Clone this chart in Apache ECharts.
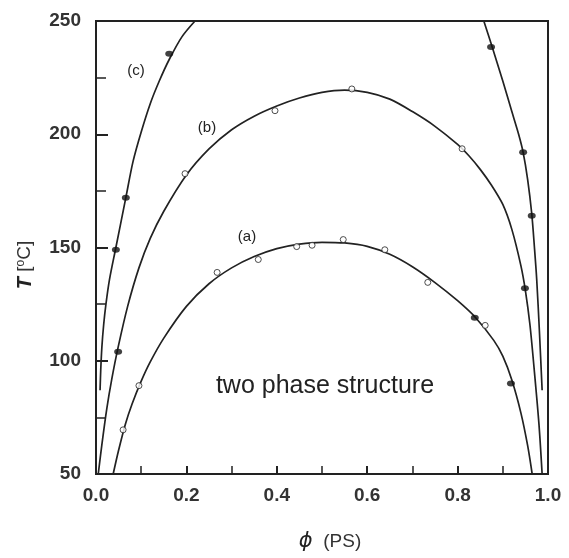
<!DOCTYPE html>
<html>
<head>
<meta charset="utf-8">
<script src="https://cdn.jsdelivr.net/npm/echarts@6/dist/echarts.min.js"></script>
<style>
  html, body { margin: 0; padding: 0; background: #fff; }
  #chart { width: 569px; height: 558px; }
</style>
</head>
<body>
<div id="chart"></div>
<script>
// fitted curves, [phi, T]
var curveA = [[0.038, 50], [0.05, 60.5], [0.065, 72], [0.08, 81], [0.1, 91], [0.12, 99.5], [0.15, 110],
  [0.2, 124], [0.25, 134], [0.3, 141], [0.35, 146], [0.4, 149.5], [0.45, 151.5], [0.5, 152.3], [0.55, 152],
  [0.6, 150.5], [0.65, 147], [0.7, 141.5], [0.75, 134.5], [0.8, 126.5], [0.84, 119], [0.88, 109], [0.9, 102],
  [0.92, 91.5], [0.94, 77], [0.955, 62.5], [0.965, 50]]
var curveB = [[0.005, 50], [0.013, 63], [0.024, 79], [0.035, 92], [0.049, 106], [0.07, 124], [0.095, 141],
  [0.12, 154], [0.15, 166], [0.2, 182], [0.25, 193.5], [0.3, 202], [0.35, 208], [0.4, 212.5], [0.45, 216],
  [0.5, 218.5], [0.55, 219.5], [0.6, 218.5], [0.65, 215.5], [0.7, 210], [0.75, 203.5], [0.8, 195.5],
  [0.825, 190.5], [0.85, 184.5], [0.875, 177.5], [0.9, 169], [0.92, 158], [0.94, 142], [0.95, 131],
  [0.96, 116], [0.97, 95], [0.98, 72], [0.987, 50]]
var curveCLeft = [[0.009, 87], [0.0105, 96], [0.013, 106], [0.017, 116], [0.022, 125], [0.03, 136], [0.044, 150],
  [0.066, 172], [0.082, 188], [0.1, 201], [0.12, 213.5], [0.14, 223.5], [0.162, 233], [0.19, 243], [0.219, 250]]
var curveCRight = [[0.858, 250], [0.875, 239.5], [0.9, 223.5], [0.92, 210], [0.935, 200], [0.945, 192],
  [0.955, 180], [0.964, 165], [0.97, 150], [0.975, 136], [0.981, 113], [0.987, 87]]

// measured points
var openPts = [[0.06, 69.5], [0.095, 89], [0.268, 139], [0.359, 144.7], [0.444, 150.4], [0.478, 151],
  [0.547, 153.5], [0.639, 149], [0.734, 134.6], [0.861, 115.6],
  [0.197, 182.6], [0.396, 210.4], [0.566, 220], [0.81, 193.6]]
var filledPts = [[0.838, 119], [0.918, 90], [0.049, 104], [0.949, 132],
  [0.044, 149], [0.066, 172], [0.162, 235.5], [0.874, 238.5], [0.945, 192], [0.964, 164]]

var xTicks = [0, 1, 0.2]
var yTicks = [50, 250, 50]

var lineStyle = { color: '#222', width: 1.7 }
function curve (data) {
  return { type: 'line', data: data, smooth: 0.3, showSymbol: false, lineStyle: lineStyle, silent: true, z: 2 }
}

var chart = echarts.init(document.getElementById('chart'))
chart.setOption({
  animation: false,
  grid: { left: 96, top: 21, right: 21, bottom: 84, show: true, borderColor: '#222', borderWidth: 2 },
  xAxis: {
    type: 'value', min: xTicks[0], max: xTicks[1], interval: xTicks[2],
    axisLine: { lineStyle: { color: '#222', width: 2 } },
    axisTick: { inside: true, length: 8, lineStyle: { color: '#222', width: 2 } },
    minorTick: { show: true, splitNumber: 2, length: 8, lineStyle: { color: '#222', width: 1.5 } },
    splitLine: { show: false },
    axisLabel: { color: '#333', fontSize: 19, fontWeight: 'bold', margin: 12, fontFamily: 'Liberation Sans',
      formatter: function (v) { return v.toFixed(1) } }
  },
  yAxis: {
    type: 'value', min: yTicks[0], max: yTicks[1], interval: yTicks[2],
    axisLine: { lineStyle: { color: '#222', width: 2 } },
    axisTick: { inside: true, length: 12, lineStyle: { color: '#222', width: 2 } },
    minorTick: { show: true, splitNumber: 2, length: 10, lineStyle: { color: '#222', width: 1.5 } },
    splitLine: { show: false },
    axisLabel: { color: '#333', fontSize: 19, fontWeight: 'bold', margin: 15, fontFamily: 'Liberation Sans' }
  },
  series: [
    curve(curveA), curve(curveB), curve(curveCLeft), curve(curveCRight),
    { type: 'scatter', data: openPts, symbol: 'circle', symbolSize: 6, z: 3,
      itemStyle: { color: '#fff', borderColor: '#222', borderWidth: 1 } },
    { type: 'scatter', data: filledPts, symbol: 'circle', symbolSize: [8, 6], z: 3,
      itemStyle: { color: '#111' } }
  ],
  graphic: [
    { type: 'text', x: 136, y: 71, style: { text: '(c)', font: '15px "Liberation Sans"', fill: '#222', align: 'center', verticalAlign: 'middle' } },
    { type: 'text', x: 207, y: 128, style: { text: '(b)', font: '15px "Liberation Sans"', fill: '#222', align: 'center', verticalAlign: 'middle' } },
    { type: 'text', x: 247, y: 237, style: { text: '(a)', font: '15px "Liberation Sans"', fill: '#222', align: 'center', verticalAlign: 'middle' } },
    { type: 'text', x: 325, y: 386, style: { text: 'two phase structure', font: '25px "Liberation Sans"', fill: '#222', align: 'center', verticalAlign: 'middle' } },
    { type: 'text', x: 330, y: 542, style: {
      text: '{i|ϕ}  (PS)', font: '19px "Liberation Sans"', fill: '#333', align: 'center', verticalAlign: 'middle',
      rich: { i: { fontStyle: 'italic', fontSize: 21, fontFamily: 'DejaVu Sans', fill: '#222' } } } },
    { type: 'text', x: 25, y: 265, rotation: Math.PI / 2, style: {
      text: '{i|T} [{s|o}C]', font: '19px "Liberation Sans"', fill: '#333', align: 'center', verticalAlign: 'middle',
      rich: {
        i: { fontStyle: 'italic', fontWeight: 'bold', fontSize: 20, fontFamily: 'Liberation Sans', fill: '#222' },
        s: { fontSize: 12, verticalAlign: 'top', padding: [0, 0, 8, 0], fill: '#333' }
      } } }
  ]
})
</script>
</body>
</html>
